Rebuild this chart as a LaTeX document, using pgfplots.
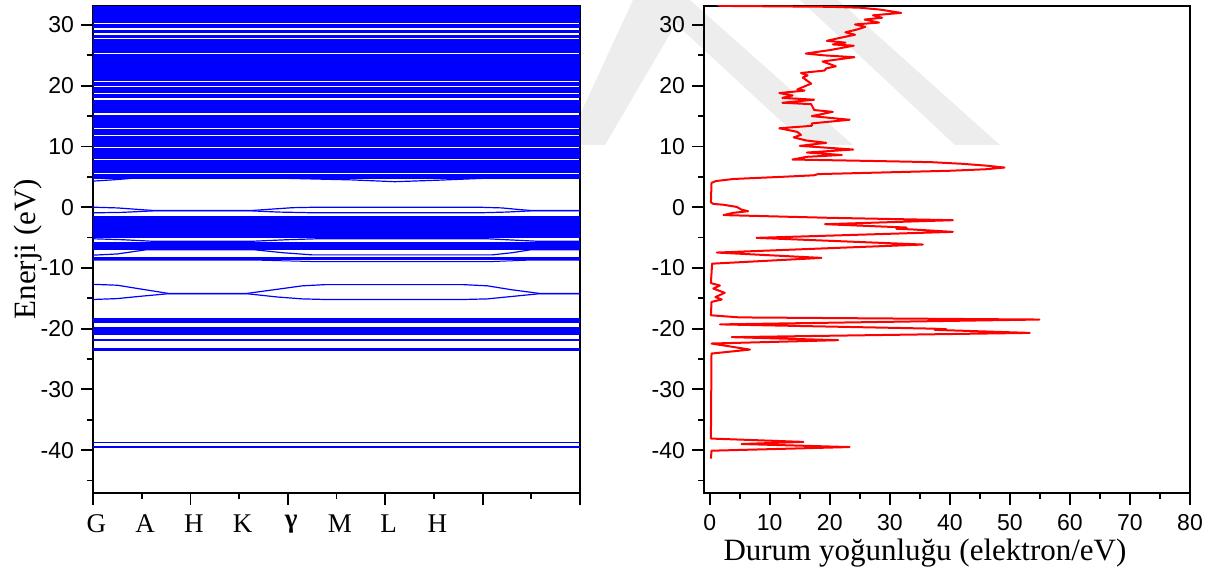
\documentclass[border=0pt]{standalone}
\usepackage{pgfplots}
\pgfplotsset{compat=1.18}
\usepackage{fontspec}
\setmainfont{Liberation Serif}
\newfontfamily\arialf{Liberation Sans}
\definecolor{wm}{RGB}{237,237,237}
\definecolor{bandblue}{RGB}{0,0,255}
\definecolor{dosred}{RGB}{255,0,0}
\begin{document}
\begin{tikzpicture}
\path[use as bounding box] (0,0) rectangle (616pt,289.5pt);
% faint background watermark
\fill[wm] (316.5pt,289.5pt) -- (345pt,289.5pt) -- (302.5pt,217pt) -- (283pt,217pt) -- cycle;
\fill[wm] (325pt,289.5pt) -- (345pt,289.5pt) -- (426.5pt,217pt) -- (403.5pt,217pt) -- cycle;
\fill[wm] (400pt,289.5pt) -- (419pt,289.5pt) -- (500pt,217pt) -- (477.5pt,217pt) -- cycle;
\pgfplotsset{
  myax/.style={
    scale only axis, anchor=south west,
    height=243.5pt,
    ymin=-47, ymax=33.2,
    ytick={-40,-30,-20,-10,0,10,20,30},
    yticklabels={-40,-30,-20,-10,0,10,20,30},
    minor ytick={-45,-35,-25,-15,-5,5,15,25},
    tick align=outside, tick pos=left,
    major tick length=6pt, minor tick length=3pt,
    every tick/.style={black, line width=0.9pt},
    axis line style={line width=1pt},
    ticklabel style={font=\arialf\fontsize{11.5}{13}\selectfont},
    xticklabel style={yshift=-1.5pt},
    label style={font=\fontsize{15.5}{18}\selectfont},
  }
}
% ---------------- Band structure ----------------
\begin{axis}[myax, at={(46.5pt,43.2pt)}, width=243.5pt,
  xmin=0, xmax=10,
  xtick={0,2,4,6,8,10}, xticklabels={},
  minor xtick={1,3,5,7,9},
  extra x ticks={0.07,1.07,2.07,3.07,4.07,5.07,6.07,7.07},
  extra x tick labels={G,A,H,K,\textbf{γ},M,L,H},
  extra x tick style={major tick length=0pt, tick label style={font=\rmfamily\fontsize{13.5}{15}\selectfont, yshift=-6pt}},
  ylabel={Enerji (eV)},
  ylabel style={at={(axis description cs:-0.1335,0.5)}, anchor=center},
  clip=true]
% conduction manifold (nearly flat bands)
\addplot[xcomb, bandblue, line width=0.6pt, mark=none] coordinates {
(10,4.75) (10,4.95) (10,5.1) (10,5.3) (10,5.45) (10,5.65) (10,5.8) (10,6.0)
(10,6.15) (10,6.35) (10,6.5) (10,6.7) (10,6.85) (10,7.05) (10,7.2) (10,7.4)
(10,7.6) (10,8.0) (10,8.2) (10,8.4) (10,8.6) (10,8.75) (10,8.95) (10,9.1)
(10,9.3) (10,9.5) (10,9.65) (10,10.0) (10,10.2) (10,10.4) (10,10.55) (10,10.75)
(10,10.95) (10,11.1) (10,11.3) (10,11.5) (10,11.6) (10,11.95) (10,12.15) (10,12.35)
(10,12.55) (10,12.7) (10,13.1) (10,13.3) (10,13.5) (10,13.7) (10,13.9) (10,14.1)
(10,14.25) (10,14.45) (10,14.6) (10,14.8) (10,15.0) (10,15.15) (10,15.55) (10,15.75)
(10,15.95) (10,16.15) (10,16.35) (10,16.5) (10,16.7) (10,16.9) (10,17.05) (10,17.25)
(10,17.45) (10,17.6) (10,18.0) (10,18.2) (10,18.4) (10,18.55) (10,18.95) (10,19.15)
(10,19.35) (10,19.55) (10,19.75) (10,20.05) (10,20.25) (10,20.45) (10,20.6) (10,20.8)
(10,21.0) (10,21.15) (10,21.35) (10,21.5) (10,21.7) (10,21.9) (10,22.05) (10,22.25)
(10,22.4) (10,22.6) (10,22.8) (10,22.95) (10,23.15) (10,23.3) (10,23.5) (10,23.7)
(10,23.85) (10,24.05) (10,24.2) (10,24.4) (10,24.6) (10,24.8) (10,25.05) (10,25.45)
(10,25.65) (10,25.85) (10,26.05) (10,26.25) (10,26.45) (10,26.6) (10,26.8) (10,27.0)
(10,27.2) (10,27.4) (10,27.55) (10,27.9) (10,28.1) (10,28.3) (10,28.75) (10,28.95)
(10,29.15) (10,29.55) (10,29.75) (10,29.95) (10,30.15) (10,30.35) (10,30.55) (10,30.7)
(10,30.9) (10,31.05) (10,31.25) (10,31.45) (10,31.6) (10,31.8) (10,32.0) (10,32.15)
(10,32.35) (10,32.55) (10,32.7) (10,32.9) (10,33.05)
};
% lowest conduction band
\addplot[bandblue, line width=0.6pt, mark=none] coordinates {
(0,4.3) (0.4,4.5) (0.8,4.75) (4,4.75) (5.3,4.5) (6.2,4.2) (7.1,4.45) (8,4.75) (10,4.75)};
% top valence bands
\addplot[bandblue, line width=0.6pt, mark=none] coordinates {
(0,0) (0.5,-0.12) (0.9,-0.35) (1.25,-0.55) (3.25,-0.55) (3.7,-0.3) (4.1,-0.08) (4.6,0) (7.9,0) (8.4,-0.12) (8.7,-0.35) (9.0,-0.55) (10,-0.55)};
\addplot[bandblue, line width=0.6pt, mark=none] coordinates {
(0,-0.93) (0.6,-0.85) (1.25,-0.6) (3.25,-0.6) (3.8,-0.8) (4.6,-0.93) (7.9,-0.93) (8.5,-0.8) (9.0,-0.6) (10,-0.6)};
% dense valence block 1
\addplot[xcomb, bandblue, line width=0.6pt, mark=none] coordinates {
(10,-1.6) (10,-1.75) (10,-1.9) (10,-2.05) (10,-2.2) (10,-2.35) (10,-2.5) (10,-2.75)
(10,-2.9) (10,-3.05) (10,-3.2) (10,-3.35) (10,-3.5) (10,-3.6) (10,-3.9) (10,-4.05)
(10,-4.2) (10,-4.35) (10,-4.5) (10,-4.65) (10,-4.8) (10,-4.9)
};
\addplot[bandblue, line width=0.6pt, mark=none] coordinates {
(0,-5.2) (0.6,-5.35) (1.2,-5.6) (3.3,-5.6) (4.0,-5.35) (4.6,-5.2) (8.1,-5.2) (8.6,-5.4) (9.1,-5.6) (10,-5.6)};
% dense valence block 2
\addplot[xcomb, bandblue, line width=0.6pt, mark=none] coordinates {
(10,-5.75) (10,-5.9) (10,-6.05) (10,-6.2) (10,-6.3) (10,-6.5) (10,-6.65) (10,-6.8) (10,-6.95)
};
\addplot[bandblue, line width=0.6pt, mark=none] coordinates {
(0,-7.9) (0.5,-7.7) (1.1,-7.0) (3.3,-7.0) (3.9,-7.5) (4.5,-7.85) (8.2,-7.85) (8.6,-7.5) (9.0,-7.0) (10,-7.0)};
\addplot[xcomb, bandblue, line width=0.6pt, mark=none] coordinates {
(10,-8.35) (10,-8.5) (10,-8.65)};
\addplot[bandblue, line width=0.5pt, mark=none] coordinates {
(0,-8.7) (3.3,-8.7) (4.5,-8.95) (8.2,-8.95) (9.0,-8.7) (10,-8.7)};
% -13 / -15 bands
\addplot[bandblue, line width=0.6pt, mark=none] coordinates {
(0,-12.7) (0.5,-12.85) (1.0,-13.5) (1.55,-14.2) (3.16,-14.2) (3.8,-13.5) (4.3,-12.95) (4.77,-12.75) (7.6,-12.75) (8.1,-12.95) (8.6,-13.6) (9.17,-14.2) (10,-14.2)};
\addplot[bandblue, line width=0.6pt, mark=none] coordinates {
(0,-15.2) (0.5,-15.05) (1.0,-14.65) (1.55,-14.25) (3.16,-14.25) (3.8,-14.8) (4.3,-15.1) (4.77,-15.2) (7.6,-15.2) (8.1,-15.1) (8.6,-14.7) (9.17,-14.25) (10,-14.25)};
% semicore bands
\addplot[xcomb, bandblue, line width=0.6pt, mark=none] coordinates {
(10,-18.3) (10,-18.45) (10,-18.6) (10,-18.75) (10,-18.9) (10,-19.0)
(10,-19.8) (10,-19.95) (10,-20.1) (10,-20.25) (10,-20.4) (10,-20.55) (10,-20.7) (10,-20.85) (10,-21.0)
(10,-21.75) (10,-21.95) (10,-23.35) (10,-23.55)
(10,-38.7) (10,-39.5)
};
\end{axis}
% ---------------- DOS ----------------
\begin{axis}[myax, at={(352pt,43.2pt)}, width=243pt,
  xmin=-0.95, xmax=80,
  xtick={0,10,20,30,40,50,60,70,80},
  xticklabels={0,10,20,30,40,50,60,70,80},
  minor xtick={5,15,25,35,45,55,65,75},
  xlabel={Durum yoğunluğu (elektron/eV)},
  xlabel style={at={(axis description cs:0.4547,-0.124)}, anchor=center},
  clip=true]
\addplot[dosred, line width=1pt, mark=none, line join=round] coordinates {
(0.2,34) (1.7,33.15) (20,33.0) (25,32.85) (28.3,32.55) (31.9,32.0)
(27.2,31.6) (28.7,31.2) (25.8,30.9) (28.2,30.4) (24.2,30.1) (25.9,29.7)
(24.7,29.3) (22.6,28.8) (24.2,28.4) (22.0,27.95) (19.5,27.4) (22.6,27.1)
(20.5,26.8) (24.0,26.6) (20.2,25.9) (16.0,25.3) (19.1,25.0) (24.1,24.7)
(18.8,24.0) (21.0,23.2) (19.4,22.85) (19.1,22.5) (15.2,22.1) (16.3,21.7)
(15.5,21.35) (16.9,20.35) (14.6,19.4) (15.8,19.2) (11.6,18.8) (13.8,18.4)
(12.1,18.0) (17.4,17.7) (12.1,17.2) (16.9,16.97) (17.4,16.0) (20.5,15.7)
(17.0,15.0) (23.3,14.4) (17.0,13.8) (17.0,13.4) (11.6,13.0) (14.6,12.4)
(15.2,11.9) (14.0,11.5) (16.0,11.0) (19.4,10.6) (15.0,10.1) (23.9,9.5)
(16.2,9.0) (22.0,8.6) (16.2,8.3) (13.8,7.85) (25,7.65) (33,7.5) (37.2,7.4)
(42,7.15) (46,6.85) (49.1,6.53) (46,6.25) (40,6.0) (30,5.75) (18.1,5.45)
(17.3,5.25) (12,5.0) (4,4.65) (1,4.3) (0.3,4.0) (0.2,0.8) (0.6,0.55)
(2.3,0.4) (4.5,0.05) (5.3,-0.4) (6.4,-0.66) (3.9,-0.93) (2.3,-1.3)
(20,-1.75) (40.5,-2.14) (19.2,-2.8) (32.8,-3.35) (31.1,-3.55) (33.5,-3.65) (40.5,-4.06)
(7.8,-5.05) (35.5,-6.15) (1.2,-7.47) (18.6,-8.35) (0.4,-9.3) (0.2,-12.5)
(1.7,-12.9) (0.6,-13.4) (2.5,-14.1) (0.95,-14.8) (2.0,-15.2) (0.3,-15.6)
(0.2,-17.8) (5,-18.15) (54.9,-18.5) (1.7,-19.3) (37.2,-20.0) (39.4,-20.1)
(37.5,-20.2) (53.3,-20.7) (3.66,-21.4) (21.4,-21.9) (0.3,-22.45) (6.7,-23.45)
(0.3,-24.1) (0.2,-38.1) (15.6,-38.65) (5.3,-39.0) (23.3,-39.5) (0.3,-40.1)
(0.2,-41.4)
};
\end{axis}
\end{tikzpicture}
\end{document}
